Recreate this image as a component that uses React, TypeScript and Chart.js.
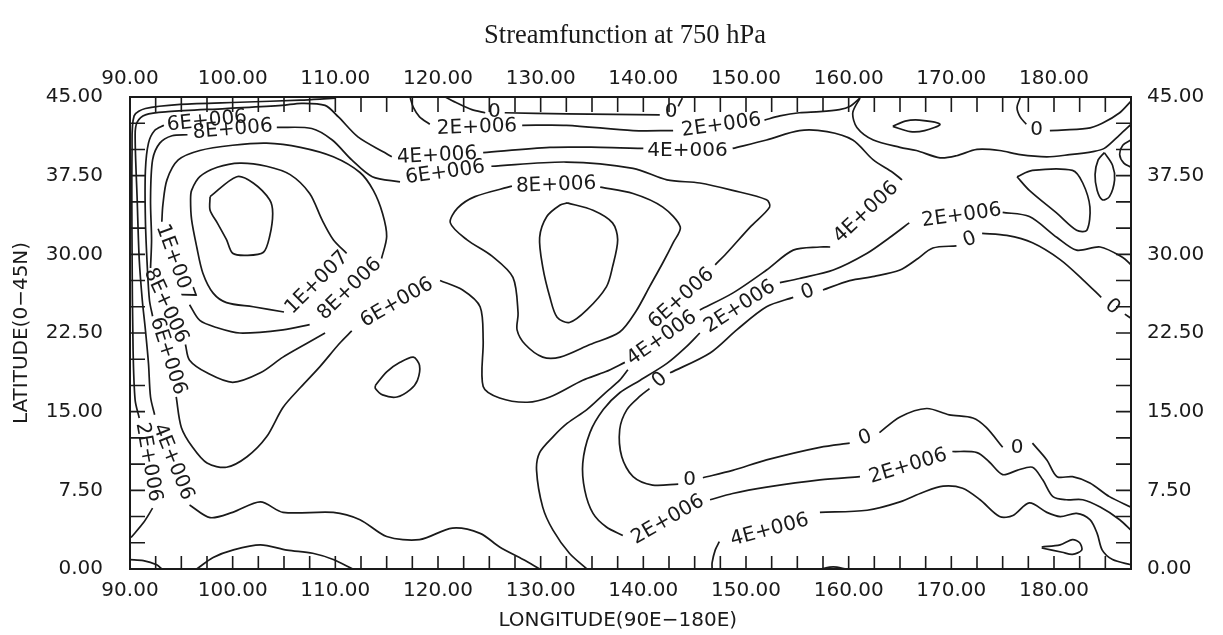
import React, { useEffect, useRef } from "react";
import { Chart, registerables } from "chart.js";

Chart.register(...registerables);

type Pt = [number, number];

// ---- axis ticks ----
const lonTicks = [90, 100, 110, 120, 130, 140, 150, 160, 170, 180];
const latTicks = [0, 7.5, 15, 22.5, 30, 37.5, 45];
const lonMinor = [92.5, 95, 97.5, 100, 102.5, 105, 107.5, 110, 112.5, 115, 117.5, 120, 122.5, 125, 127.5, 130, 132.5, 135, 137.5, 140, 142.5, 145, 147.5, 150, 152.5, 155, 157.5, 160, 162.5, 165, 167.5, 170, 172.5, 175, 177.5, 180, 182.5, 185];
const latMinor = [2.5, 5, 7.5, 10, 12.5, 15, 17.5, 20, 22.5, 25, 27.5, 30, 32.5, 35, 37.5, 40, 42.5];

// ---- contour lines [lon, lat] ----
const psiCoreA: Pt[] = [[97.8,35.5],[100.4,37.4],[102.0,36.8],[103.6,35.2],[103.9,33.9],[103.6,31.7],[103.0,30.2],[101.4,29.9],[100.0,30.1],[99.4,31.4],[98.5,33.0],[97.8,34.2],[97.8,35.5]];
const psi10Ring: Pt[] = [[111.1,30.1],[109.8,31.4],[108.7,33.3],[107.5,35.8],[105.6,37.6],[103.3,38.4],[100.7,38.7],[98.5,38.3],[96.8,37.4],[96.0,36.1],[95.9,35.2],[96.0,33.3],[96.5,30.7],[97.1,28.2],[98.1,26.3],[99.4,25.4],[102.0,25.0],[105.0,24.5]];
const psiRingTop: Pt[] = [[114.5,29.6],[115.0,31.7],[114.6,33.9],[113.7,36.1],[112.4,37.8],[109.8,39.3],[106.6,40.2],[103.3,40.6],[100.0,40.4],[96.8,39.9],[94.7,39.0],[93.6,37.1],[93.2,34.7],[93.1,33.1]];
const psiRingBottom: Pt[] = [[95.8,25.2],[96.8,23.7],[98.5,23.0],[100.7,22.5],[104.9,22.8],[107.5,23.3]];
const psi8LeftUpper: Pt[] = [[95.6,41.4],[94.1,41.3],[92.9,40.6],[92.2,39.0],[92.0,35.2],[92.1,31.4],[92.0,28.7]];
const psi8TopRight: Pt[] = [[104.3,42.1],[107.7,42.0],[109.7,40.9],[111.6,39.0],[113.6,37.4],[116.3,36.9]];
const psi8LeftLower: Pt[] = [[95.4,21.4],[95.8,19.9],[97.5,18.7],[100.0,17.8],[102.7,18.7],[104.9,20.2],[107.2,21.5],[109.0,22.5]];
const psi6LeftUpper: Pt[] = [[93.3,42.3],[92.4,41.8],[91.8,40.6],[91.5,38.0],[91.5,33.3],[91.7,28.5],[91.9,25.6],[92.2,24.1]];
const psi6LeftLower: Pt[] = [[94.5,16.4],[95.0,13.5],[96.1,11.6],[97.5,10.1],[99.4,9.7],[101.4,10.7],[103.3,12.6],[104.9,15.4],[106.6,17.3],[108.5,19.3],[110.4,21.5],[111.6,22.7]];
const psi6Mid: Pt[] = [[120.2,27.5],[122.4,26.6],[124.1,25.0],[124.4,21.8],[124.4,17.4],[126.0,16.3],[128.7,15.9],[130.9,16.4],[134.1,18.0],[136.3,18.8],[138.2,19.7]];
const psi4EastA: Pt[] = [[145.5,24.7],[148.7,26.3],[152.0,28.5],[154.6,30.4],[157.2,30.7],[158.2,30.7]];
const psi4EastB: Pt[] = [[165.2,37.1],[164.3,37.8],[162.4,39.0],[160.4,40.9],[157.9,41.7],[155.2,41.8],[152.0,40.9],[148.7,40.1]];
const psi4North: Pt[] = [[140.0,40.1],[135.8,40.2],[130.9,40.2],[124.4,39.7]];
const psi4West: Pt[] = [[115.5,39.3],[114.8,39.7],[112.2,41.2],[110.3,43.1],[109.0,44.2],[106.7,44.4],[104.8,44.2],[99.3,43.9],[93.7,43.6],[91.5,43.3],[90.7,42.6],[90.5,41.4],[90.7,35.2],[90.9,29.5],[91.2,25.6],[91.5,22.8],[91.8,19.6],[92.0,16.4],[92.4,14.7]];
const psi4South: Pt[] = [[95.8,6.1],[97.8,4.9],[100.0,5.4],[102.7,6.4],[104.9,5.4],[109.8,5.4],[112.4,4.7],[115.0,3.1],[118.2,2.8],[121.4,3.9],[124.1,3.4],[126.0,2.1],[128.3,0.9],[129.9,0]];
const psi2WestTop: Pt[] = [[110.0,44.9],[108.5,44.8],[106.6,44.7],[100.7,44.5],[94.9,44.3],[91.5,43.9],[90.4,43.2],[90.2,39.9],[90.2,30.4],[90.3,20.9],[90.5,16.1],[90.9,14.4]];
const psi2WestBottom: Pt[] = [[92.2,5.8],[91.3,4.4],[90.1,3.0]];
const psiCornerSW: Pt[] = [[90.0,0.9],[91.3,0.8],[92.6,0.4],[93.1,0]];
const psiBumpSW: Pt[] = [[96.5,0],[98.1,1.1],[100.0,1.8],[102.7,2.3],[105.3,1.8],[107.8,1.5],[109.8,0.9],[111.7,0]];
const psiCoreB: Pt[] = [[132.6,34.9],[135.1,34.2],[137.0,33.0],[137.5,31.4],[137.0,28.8],[136.4,26.9],[134.5,24.7],[132.8,23.5],[131.6,24.0],[130.9,25.9],[130.2,28.8],[129.9,31.6],[130.6,33.6],[131.9,34.7],[132.6,34.9]];
const psi8LoopB: Pt[] = [[135.8,36.4],[139.0,35.8],[141.9,34.5],[143.6,32.6],[142.9,31.1],[141.9,29.2],[140.6,26.9],[139.3,24.6],[137.7,22.6],[134.8,21.4],[131.9,20.2],[130.2,20.2],[128.5,21.4],[127.7,22.8],[127.8,24.4],[127.3,27.8],[125.3,29.8],[122.8,31.4],[121.2,33.0],[121.9,34.4],[123.6,35.5],[127.2,36.5]];
const psi6North: Pt[] = [[125.2,38.4],[132.5,38.8],[139.0,38.2],[142.3,37.1],[145.5,36.8],[148.7,36.1],[152.0,35.2],[152.3,34.5],[150.4,32.6],[148.1,30.1],[147.0,29.0]];
const psi2NorthA: Pt[] = [[117.3,44.9],[117.6,44.0],[118.2,43.1],[119.2,42.4]];
const psi2NorthB: Pt[] = [[128.2,42.3],[132.5,42.3],[139.0,41.8],[142.9,41.8]];
const psi2NorthC: Pt[] = [[151.8,42.8],[153.3,43.2],[155.2,43.5],[157.2,43.6],[159.1,43.8],[160.1,44.1],[161.1,44.9]];
const psi0NorthA: Pt[] = [[120.7,45.0],[121.9,44.4],[123.3,43.8],[124.6,43.5]];
const psi0NorthB: Pt[] = [[126.5,43.5],[132.5,43.4],[141.6,43.3]];
const psi0NorthC: Pt[] = [[143.4,44.1],[143.8,44.9]];
const psi0NorthEast: Pt[] = [[161.1,44.9],[160.4,43.5],[160.8,42.1],[162.4,40.9],[165.0,40.2],[166.6,39.9],[168.9,39.2],[170.5,39.4],[172.5,40.0],[174.7,39.9],[176.7,39.5],[179.3,39.3],[181.5,39.5],[183.8,39.8],[184.9,40.1],[186.4,41.4],[187.5,42.4]];
const psiLensNE: Pt[] = [[164.3,42.2],[165.5,42.7],[166.9,42.8],[168.9,42.4],[167.4,41.8],[166.0,41.7],[164.3,42.2]];
const psi0CornerNEa: Pt[] = [[177.3,42.4],[176.7,43.1],[176.4,44.0],[176.7,44.9]];
const psi0CornerNEb: Pt[] = [[179.6,41.8],[183.2,42.0],[184.7,42.5],[186.4,43.5],[187.5,44.6]];
const psiArcE: Pt[] = [[187.5,40.9],[186.7,40.4],[186.4,39.5],[186.8,38.7],[187.5,38.3]];
const psiOvalE: Pt[] = [[184.9,39.7],[185.7,38.5],[185.9,37.1],[185.4,35.5],[184.7,35.2],[184.2,36.1],[184.0,37.6],[184.3,39.0],[184.9,39.7]];
const psiLoopE: Pt[] = [[176.4,37.4],[177.9,38.0],[181.8,38.0],[182.8,36.8],[183.5,34.5],[183.2,32.3],[182.2,32.3],[180.3,33.9],[177.6,36.1],[176.4,37.4]];
const psiSmallLoop: Pt[] = [[113.9,17.5],[115.0,18.8],[116.3,19.7],[117.6,20.2],[118.2,19.4],[118.0,18.0],[117.3,17.1],[116.0,16.4],[114.6,16.6],[113.9,17.2],[113.9,17.5]];
const psi2EastA: Pt[] = [[138.0,3.2],[136.4,4.0],[135.1,5.3],[134.3,7.5],[134.1,10.1],[134.8,13.0],[136.1,15.2],[137.7,16.8],[139.7,18.0],[142.3,19.6],[144.2,21.2],[145.5,22.5]];
const psi2EastB: Pt[] = [[153.3,27.3],[155.2,27.7],[158.5,28.5],[161.8,30.1],[164.0,31.6],[165.9,33.0]];
const psi2EastC: Pt[] = [[175.0,34.0],[177.6,33.6],[180.3,31.6],[182.2,30.4],[184.5,30.7],[186.7,29.7],[187.5,29.0]];
const psi2SouthA: Pt[] = [[146.5,6.6],[148.7,7.2],[152.0,7.8],[157.2,8.5],[161.1,8.8]];
const psi2SouthB: Pt[] = [[170.1,11.2],[172.5,11.1],[173.7,10.2],[175.0,9.0],[176.4,9.4],[177.9,9.7],[178.9,8.5],[179.9,6.9],[181.2,6.6],[182.8,6.6],[184.5,5.9],[186.4,4.7],[187.5,3.7]];
const psi0EastA: Pt[] = [[186.9,24.3],[187.5,23.9]];
const psi0EastB: Pt[] = [[173.0,32.0],[175.4,31.8],[177.9,31.1],[180.6,29.5],[182.8,27.6],[184.6,25.9]];
const psi0EastC: Pt[] = [[157.5,26.6],[160.1,27.5],[162.5,27.9],[165.0,28.5],[166.6,29.5],[168.2,30.6],[170.5,30.8]];
const psi0EastD: Pt[] = [[142.6,18.7],[146.5,20.6],[149.1,22.8],[152.0,25.0],[154.6,25.9]];
const psi0Bend: Pt[] = [[140.6,17.2],[139.7,16.5],[138.4,15.2],[137.7,13.3],[137.9,10.7],[139.0,8.8],[140.9,8.0],[143.4,8.1]];
const psi0SouthA: Pt[] = [[145.8,8.7],[148.7,9.4],[152.0,10.4],[157.2,11.6],[160.1,12.0]];
const psi0SouthB: Pt[] = [[163.0,13.0],[165.0,14.5],[167.6,15.3],[169.8,14.7],[172.1,14.4],[173.4,13.5],[175.0,11.6]];
const psi0SouthC: Pt[] = [[177.9,12.0],[179.3,10.4],[180.3,8.8],[181.8,8.8],[183.5,8.2],[185.4,6.9],[187.5,5.9]];
const psi4Center: Pt[] = [[134.5,0],[132.8,1.5],[131.2,3.7],[130.2,5.9],[129.6,9.4],[129.9,11.1],[131.2,12.6],[132.6,13.9],[134.5,15.2],[136.3,16.8],[137.7,18.0],[138.5,19.0]];
const psi4SouthEastA: Pt[] = [[146.7,0],[146.7,0.6],[147.0,1.8],[147.4,2.6]];
const psi4SouthEastB: Pt[] = [[157.2,5.4],[161.8,5.6],[165.0,6.4],[167.2,7.3],[169.2,7.9],[171.1,7.7],[172.8,6.6],[174.7,5.0],[176.0,5.1],[177.6,6.3],[179.3,5.4],[180.6,5.0],[182.2,5.3],[183.5,4.7],[184.2,3.4],[184.7,1.8],[185.7,0.9],[187.5,0.4]];
const psiDropSE: Pt[] = [[178.8,2.1],[180.6,2.3],[181.8,2.8],[182.5,2.5],[182.7,1.8],[181.8,1.4],[180.8,1.6],[178.8,2.0]];
const psiBumpS: Pt[] = [[157.2,0],[158.5,0.2],[159.8,0]];

// ---- contour labels: [text, lon, lat, rotation deg] ----
const contourLabels: [string, number, number, number][] = [
  ["1E+007", 108.2, 27.3, -45],
  ["1E+007", 94.4, 29.2, 70],
  ["8E+006", 111.4, 26.7, -44],
  ["8E+006", 100.0, 41.9, -5],
  ["6E+006", 97.5, 42.7, -6],
  ["8E+006", 93.5, 25.1, 65],
  ["6E+006", 93.7, 20.3, 72],
  ["6E+006", 116.0, 25.4, -30],
  ["6E+006", 120.7, 37.8, -8],
  ["4E+006", 119.9, 39.4, -3],
  ["4E+006", 144.3, 39.9, 0],
  ["4E+006", 161.7, 34.0, -43],
  ["4E+006", 141.8, 22.0, -35],
  ["6E+006", 143.7, 25.8, -42],
  ["8E+006", 131.5, 36.6, -2],
  ["2E+006", 123.8, 42.1, -2],
  ["2E+006", 147.6, 42.3, -8],
  ["0", 125.5, 43.6, 0],
  ["0", 142.7, 43.6, 0],
  ["0", 178.3, 41.9, 0],
  ["2E+006", 171.0, 33.7, -8],
  ["0", 171.8, 31.4, -20],
  ["0", 185.7, 25.0, 40],
  ["2E+006", 149.4, 25.0, -33],
  ["0", 156.0, 26.4, -20],
  ["0", 141.6, 18.0, -40],
  ["0", 144.5, 8.5, 0],
  ["2E+006", 142.4, 4.7, -30],
  ["0", 161.6, 12.5, -20],
  ["2E+006", 165.8, 9.8, -17],
  ["0", 176.4, 11.6, 0],
  ["4E+006", 152.3, 3.7, -15],
  ["2E+006", 91.8, 10.2, 80],
  ["4E+006", 94.2, 10.2, 68],
];

const contourLines: Pt[][] = [
  psiCoreA, psi10Ring, psiRingTop, psiRingBottom, psi8LeftUpper, psi8TopRight, psi8LeftLower,
  psi6LeftUpper, psi6LeftLower, psi6Mid, psi4EastA, psi4EastB, psi4North, psi4West, psi4South,
  psi2WestTop, psi2WestBottom, psiCornerSW, psiBumpSW, psiCoreB, psi8LoopB, psi6North,
  psi2NorthA, psi2NorthB, psi2NorthC, psi0NorthA, psi0NorthB, psi0NorthC, psi0NorthEast,
  psiLensNE, psi0CornerNEa, psi0CornerNEb, psiArcE, psiOvalE, psiLoopE, psiSmallLoop,
  psi2EastA, psi2EastB, psi2EastC, psi2SouthA, psi2SouthB, psi0EastA, psi0EastB, psi0EastC,
  psi0EastD, psi0Bend, psi0SouthA, psi0SouthB, psi0SouthC, psi4Center, psi4SouthEastA,
  psi4SouthEastB, psiDropSE, psiBumpS,
];

const INK = "#1a1a1a";
const AXIS_FONT = { family: "DejaVu Sans", size: 20 };

const innerTicks = {
  id: "innerTicks",
  afterDatasetsDraw(chart: any) {
    const { ctx, chartArea: a, scales } = chart;
    const xs = scales.x;
    const ys = scales.y;
    ctx.save();
    ctx.strokeStyle = INK;
    ctx.lineWidth = 1.6;
    ctx.beginPath();
    lonMinor.forEach((v) => {
      const px = xs.getPixelForValue(v);
      ctx.moveTo(px, a.bottom);
      ctx.lineTo(px, a.bottom - 13);
      ctx.moveTo(px, a.top);
      ctx.lineTo(px, a.top + 15);
    });
    latMinor.forEach((v) => {
      const py = ys.getPixelForValue(v);
      ctx.moveTo(a.left, py);
      ctx.lineTo(a.left + 15, py);
      ctx.moveTo(a.right, py);
      ctx.lineTo(a.right - 15, py);
    });
    ctx.stroke();
    ctx.restore();
  },
};

const contourText = {
  id: "contourText",
  afterDatasetsDraw(chart: any) {
    const { ctx, scales } = chart;
    ctx.save();
    ctx.fillStyle = INK;
    ctx.font = '20px "DejaVu Sans"';
    ctx.textAlign = "center";
    ctx.textBaseline = "middle";
    contourLabels.forEach(([t, lon, lat, rot]) => {
      const x = scales.x.getPixelForValue(lon);
      const y = scales.y.getPixelForValue(lat);
      ctx.save();
      ctx.translate(x, y);
      ctx.rotate((rot * Math.PI) / 180);
      ctx.fillText(t, 0, 0);
      ctx.restore();
    });
    ctx.restore();
  },
};

function xAxis(position: "top" | "bottom", height: number, pad: number, title?: string) {
  return {
    type: "linear",
    position,
    min: 90,
    max: 187.5,
    afterBuildTicks: (s: any) => {
      s.ticks = lonTicks.map((v) => ({ value: v }));
    },
    afterFit: (s: any) => {
      s.height = height;
    },
    ticks: {
      callback: (v: any) => Number(v).toFixed(2),
      font: AXIS_FONT,
      color: INK,
      padding: pad,
      maxRotation: 0,
      autoSkip: false,
    },
    grid: { display: false, drawTicks: false },
    border: { display: true, color: INK, width: 2 },
    title: title
      ? { display: true, text: title, font: AXIS_FONT, color: INK, padding: { top: 0, bottom: 2.5 } }
      : { display: false },
  };
}

function yAxis(position: "left" | "right", width: number, pad: number, title?: string) {
  return {
    type: "linear",
    position,
    min: 0,
    max: 45,
    afterBuildTicks: (s: any) => {
      s.ticks = latTicks.map((v) => ({ value: v }));
    },
    afterFit: (s: any) => {
      s.width = width;
    },
    ticks: {
      callback: (v: any) => Number(v).toFixed(2),
      font: AXIS_FONT,
      color: INK,
      padding: pad,
      autoSkip: false,
    },
    grid: { display: false, drawTicks: false },
    border: { display: true, color: INK, width: 2 },
    title: title
      ? { display: true, text: title, font: AXIS_FONT, color: INK, padding: { top: -17, bottom: 0 } }
      : { display: false },
  };
}

export default function App() {
  const ref = useRef<HTMLCanvasElement>(null);
  useEffect(() => {
    const datasets = contourLines.map((pts) => ({
      data: pts.map(([x, y]) => ({ x, y })),
      showLine: true,
      pointRadius: 0,
      borderColor: INK,
      borderWidth: 1.7,
      tension: 0.3,
      fill: false,
    }));
    const chart = new Chart(ref.current as HTMLCanvasElement, {
      type: "scatter",
      data: { datasets } as any,
      options: {
        animation: false,
        responsive: false,
        events: [],
        layout: { padding: { left: 27, right: 0, top: 0, bottom: 0 } },
        plugins: {
          legend: { display: false },
          tooltip: { enabled: false },
          title: {
            display: true,
            text: "Streamfunction at 750 hPa",
            color: INK,
            font: { family: "Liberation Serif", size: 26.5, weight: "normal" },
            padding: { top: 20, bottom: 0 },
          },
        },
        scales: {
          x: xAxis("bottom", 66, 10, "LONGITUDE(90E\u2212180E)    "),
          x2: xAxis("top", 45.2, 6),
          y: yAxis("left", 103, 27, "LATITUDE(0\u221245N)"),
          y2: yAxis("right", 92, 16),
        } as any,
      },
      plugins: [innerTicks, contourText],
    } as any);
    return () => chart.destroy();
  }, []);
  return (
    <div style={{ position: "fixed", left: 0, top: 0, width: 1223, height: 635, background: "#fff" }}>
      <canvas ref={ref} width={1223} height={635} style={{ display: "block" }} />
    </div>
  );
}
